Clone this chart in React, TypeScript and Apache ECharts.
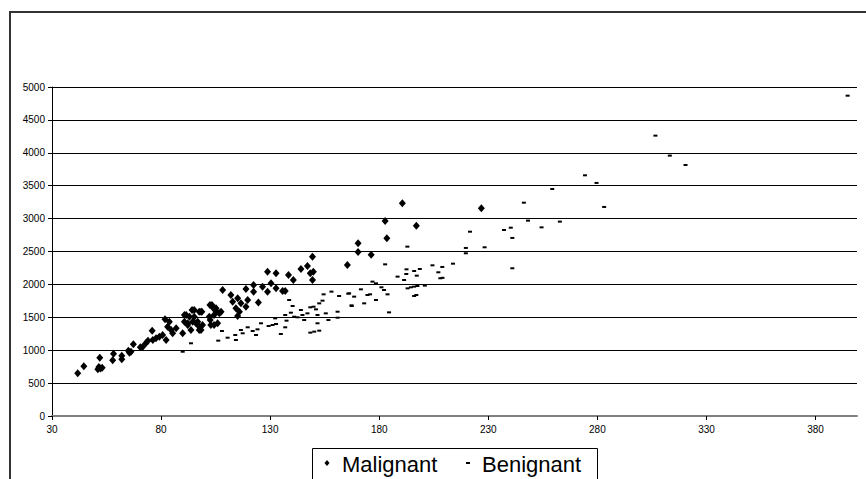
import React, { useEffect, useRef } from "react";
import * as echarts from "echarts";

const xTicks = [30, 80, 130, 180, 230, 280, 330, 380];
const yTicks = [0, 500, 1000, 1500, 2000, 2500, 3000, 3500, 4000, 4500, 5000];
const seriesNames = ["Malignant", "Benignant"];

const malignantX = [
  41.8, 44.6, 51.9, 51.5, 52.2, 53, 51, 58.2, 57.8, 62, 62, 65, 65.5, 67.3, 66.2, 70.5, 71.5, 73, 74, 75.9,
  76.2, 77.7, 79.2, 80.7, 82.3, 81.8, 83.8, 83, 84.6, 86.9, 85.3, 89.9, 90.7, 92.2, 94.2, 95.2, 96, 98.3, 97.5, 99,
  102.1, 103.3, 105.2, 105.9, 107.5, 108.2,
  149.4, 147.1, 144.1, 149.8, 148.4, 149.4, 138.4, 140.6, 132.7, 128.8, 130.4, 126.5, 128.8, 132.7, 122.4, 122.4,
  118.9, 112, 112.8, 115.1, 116.6, 119.7, 114.3, 115.9, 115.1, 118.9, 124.6, 135.7, 136.9, 102.4, 104, 105.6, 106.7,
  104.3, 102.5, 102.8, 104.3, 97.5, 95.2, 98.7, 91.5, 93, 94.5, 96.8, 97.5, 98.3, 93.7, 90.7, 92.2,
  190.6, 226.8, 182.7, 197, 183.5, 170.3, 170.3, 176.3, 165.4,
];
const malignantY = [
  650, 755, 886, 745, 720, 735, 710, 947, 846, 917, 862, 993, 962, 1090, 977, 1044, 1050, 1105, 1145, 1297,
  1155, 1181, 1206, 1231, 1155, 1470, 1433, 1358, 1307, 1333, 1257, 1257, 1535, 1409, 1611, 1509, 1409, 1585, 1307, 1383,
  1509, 1687, 1636, 1409, 1585, 1915,
  2422, 2280, 2234, 2194, 2168, 2067, 2143, 2067, 2168, 2194, 2016, 1965, 1889, 1941, 1991, 1889,
  1930, 1839, 1737, 1788, 1712, 1763, 1636, 1585, 1520, 1661, 1725, 1900, 1900, 1687, 1636, 1585, 1560,
  1535, 1459, 1383, 1383, 1585, 1611, 1585, 1535, 1509, 1433, 1433, 1357, 1307, 1307, 1433, 1383,
  3233, 3157, 2964, 2893, 2701, 2625, 2493, 2452, 2295,
];

const benignX = [
  89.9, 93.7, 106.2, 107.9, 110.5, 114, 114.3, 116.6, 117.4, 119.7, 122, 123.5, 124.2, 125.8, 129.3, 131.1, 132.7,
  132.3, 134.9, 136.9, 137.5, 136.9, 138.7, 140.3, 139.5, 141, 142.5, 144.1, 144.8, 145.6, 147.1, 148.4, 149.9, 151,
  151.7, 151.7, 152.5, 154, 154.5, 155.5, 156.7, 148.4, 150.2, 152.5, 158.1, 160.9, 160.9, 161.6, 166.2, 167.4, 168.5,
  171.6, 173.1, 174.6, 175.8, 176.9, 178.5, 178.5,
  246.3, 248.2, 237.2, 240.3, 241, 221.6, 228.3, 219.7, 219.7, 241, 213.8, 208.9, 204.4, 207.1, 208, 209, 200.9,
  197.5, 196, 192.9, 182.7, 192.5, 196, 198.6, 192.4, 197.2, 188.4, 191.4, 194.5, 193, 196, 197, 181, 182.2, 183.8,
  184.5, 165.8, 167.3,
  306.6, 313.2, 320.4, 274.3, 279.6, 259.3, 283.1, 262.8, 254.4, 394.7,
];
const benignY = [
  977, 1105, 1145, 1292, 1190, 1231, 1155, 1307, 1257, 1348, 1292, 1231, 1317, 1409, 1368, 1383, 1398,
  1484, 1246, 1348, 1449, 1535, 1763, 1672, 1570, 1509, 1500, 1611, 1535, 1459, 1560, 1652, 1661, 1621,
  1535, 1409, 1712, 1753, 1849, 1560, 1459, 1267, 1282, 1297, 1890, 1585, 1494, 1824, 1864, 1672, 1814,
  1925, 1712, 1839, 1849, 2042, 2016, 1763,
  3242, 2969, 2827, 2862, 2706, 2801, 2564, 2554, 2473, 2245, 2315, 2265, 2290, 2184, 2093, 2100, 1981,
  1976, 1966, 2574, 2305, 2229, 2204, 2234, 2158, 2133, 2118, 2067, 1956, 1940, 1824, 1839, 1956, 1915, 1849,
  1575, 1859, 1682,
  4261, 3957, 3815, 3658, 3542, 3450, 3177, 2954, 2867, 4868,
];

const FONT = "Arial, 'Liberation Sans', sans-serif";

export default function App() {
  const ref = useRef<HTMLDivElement>(null);
  useEffect(() => {
    if (!ref.current) return;
    const chart = echarts.init(ref.current, null, { renderer: "svg" });
    const malignant = malignantX.map((x, i) => [x, malignantY[i]]);
    const benign = benignX.map((x, i) => [x, benignY[i]]);
    chart.setOption({
      animation: false,
      backgroundColor: "#fff",
      grid: { left: 52, right: 9, top: 87, bottom: 63, outerBoundsMode: "none" },
      xAxis: {
        type: "value",
        min: xTicks[0],
        max: 399,
        axisLine: { show: true, onZero: false, lineStyle: { color: "#808080", width: 2 } },
        axisTick: { show: true, length: 4, customValues: xTicks, lineStyle: { color: "#000", width: 1 } },
        axisLabel: {
          customValues: xTicks,
          fontSize: 10,
          color: "#000",
          fontFamily: FONT,
          margin: 8,
          formatter: (v: number) => String(v),
        },
        splitLine: { show: false },
      },
      yAxis: {
        type: "value",
        min: yTicks[0],
        max: yTicks[yTicks.length - 1],
        interval: 500,
        axisLine: { show: true, lineStyle: { color: "#000", width: 1 } },
        axisTick: { show: true, length: 4, lineStyle: { color: "#000", width: 1 } },
        axisLabel: {
          fontSize: 10,
          color: "#000",
          fontFamily: FONT,
          margin: 7,
          formatter: (v: number) => String(v),
        },
        splitLine: { show: true, lineStyle: { color: "#000", width: 1 } },
      },
      series: [
        {
          name: seriesNames[0],
          type: "scatter",
          symbol: "diamond",
          symbolSize: [7, 8],
          itemStyle: { color: "#000", opacity: 1 },
          data: malignant,
        },
        {
          name: seriesNames[1],
          type: "scatter",
          symbol: "rect",
          symbolSize: [4, 2],
          itemStyle: { color: "#000", opacity: 1 },
          data: benign,
        },
      ],
      graphic: [
        {
          type: "rect",
          shape: { x: 10, y: 12, width: 900, height: 500 },
          style: { fill: "none", stroke: "#333", lineWidth: 2 },
          z: 100,
        },
        {
          type: "rect",
          shape: { x: 312.5, y: 448.5, width: 285, height: 60 },
          style: { fill: "#fff", stroke: "#000", lineWidth: 1 },
          z: 100,
        },
        {
          type: "polygon",
          shape: { points: [[327, 460], [329.5, 463], [327, 466], [324.5, 463]] },
          style: { fill: "#000" },
          z: 101,
        },
        {
          type: "text",
          x: 342,
          y: 464,
          style: { text: seriesNames[0], font: `22px ${FONT}`, fill: "#000", align: "left", verticalAlign: "middle" },
          z: 101,
        },
        {
          type: "rect",
          shape: { x: 466, y: 462, width: 4, height: 2 },
          style: { fill: "#000" },
          z: 101,
        },
        {
          type: "text",
          x: 482,
          y: 464,
          style: { text: seriesNames[1], font: `22px ${FONT}`, fill: "#000", align: "left", verticalAlign: "middle" },
          z: 101,
        },
      ],
    });
    return () => chart.dispose();
  }, []);
  return (
    <div
      ref={ref}
      style={{ position: "absolute", left: 0, top: 0, width: 866, height: 479 }}
    />
  );
}
